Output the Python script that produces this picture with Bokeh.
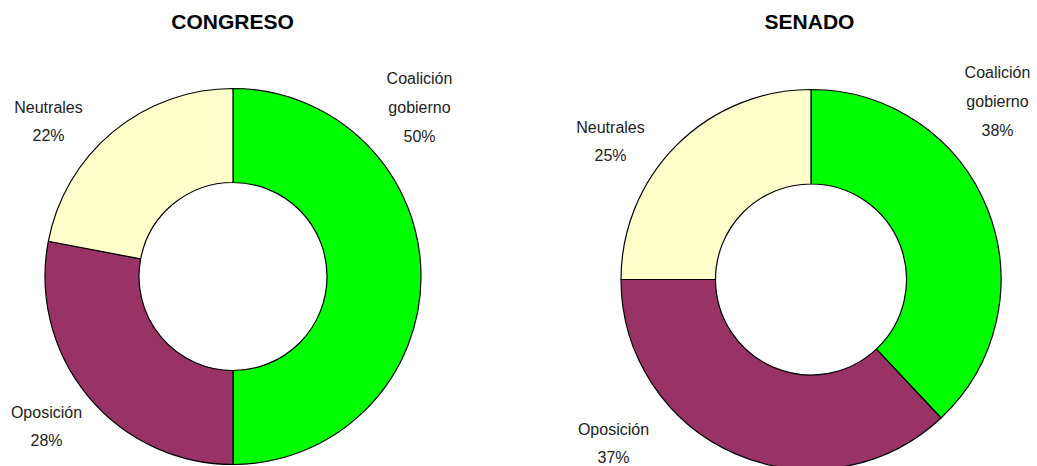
import numpy as np
from bokeh.plotting import figure
from bokeh.models import Range1d, ColumnDataSource
from bokeh.core.properties import value
from bokeh.embed import file_html
from bokeh.resources import INLINE

# ---- data ----
categories = ["Coalición gobierno", "Oposición", "Neutrales"]
label_names = ["Coalición\ngobierno", "Oposición", "Neutrales"]
congreso_pct = [50, 28, 22]
senado_pct = [38, 37, 25]
colors = ["#00FF00", "#993366", "#FFFFCC"]
titles = ["CONGRESO", "SENADO"]

FONT = "Liberation Sans"

W, H = 1037, 466
p = figure(width=W, height=H, output_backend="svg", toolbar_location=None,
           x_range=Range1d(0, W), y_range=Range1d(0, H),
           min_border=0, border_fill_color="white", background_fill_color="white")
p.axis.visible = False
p.grid.visible = False
p.outline_line_color = None

# layout in screen-like coordinates (y measured upward from bottom)
layouts = [
    dict(cx=232.5, cy=190, ro=188, ri=94, tx=232, ty=445,
         lx=[419, 46, 48], ly=[359, 40, 345]),
    dict(cx=810.5, cy=187, ro=190, ri=95.5, tx=809, ty=445,
         lx=[997, 613, 610], ly=[365, 23, 325]),
]

for vals, lay, title in zip([congreso_pct, senado_pct], layouts, titles):
    v = np.array(vals, dtype=float)
    frac = v / v.sum()
    cum = np.concatenate([[0], np.cumsum(frac)])
    start = np.pi / 2 - 2 * np.pi * cum[:-1]
    end = np.pi / 2 - 2 * np.pi * cum[1:]
    src = ColumnDataSource(dict(x=[lay["cx"]] * len(v), y=[lay["cy"]] * len(v),
                                start=start, end=end, color=colors))
    p.annular_wedge(x="x", y="y", inner_radius=lay["ri"], outer_radius=lay["ro"],
                    start_angle="start", end_angle="end", direction="clock",
                    fill_color="color", line_color="black", line_width=1.2, source=src)
    texts = [f"{n}\n{int(val)}%" for n, val in zip(label_names, vals)]
    p.text(x=lay["lx"], y=lay["ly"], text=texts, text_font=value(FONT),
           text_font_size="16px", text_color="#222222", text_align="center",
           text_baseline="middle", text_line_height=1.7)
    p.text(x=[lay["tx"]], y=[lay["ty"]], text=[title], text_font=value(FONT),
           text_font_size="21px", text_font_style="bold", text_color="black",
           text_align="center", text_baseline="middle")

open("out.html", "w").write(file_html(p, INLINE))
